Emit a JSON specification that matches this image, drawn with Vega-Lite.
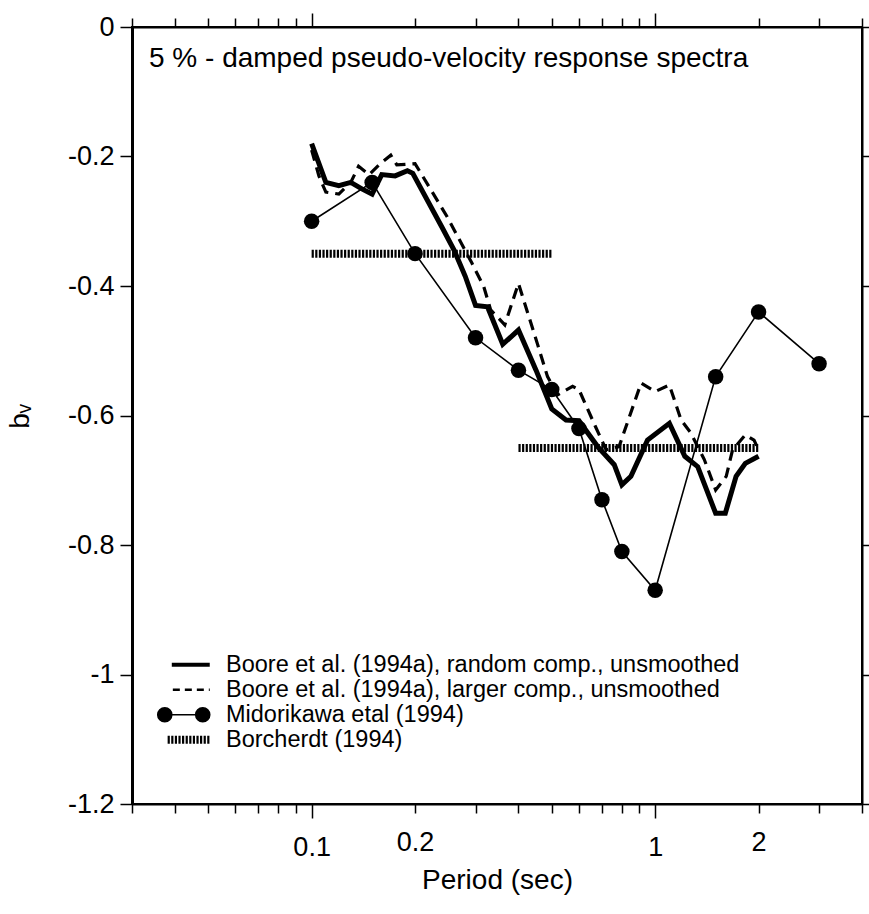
{
  "$schema": "https://vega.github.io/schema/vega-lite/v6.json",
  "width": 730,
  "height": 777,
  "autosize": {"type": "none"},
  "padding": {"left": 132, "top": 27, "right": 7, "bottom": 110},
  "background": "white",
  "config": {
    "view": {"stroke": "black", "strokeWidth": 2},
    "font": "Liberation Sans",
    "axis": {"grid": false, "domainColor": "black", "domainWidth": 2, "tickColor": "black", "tickWidth": 1.5, "labelColor": "black", "titleColor": "black", "labelFont": "Liberation Sans", "titleFont": "Liberation Sans", "titleFontWeight": "normal", "labelOverlap": false, "labelFlush": false, "labelBound": false}
  },
  "title": {
    "text": "5 % - damped pseudo-velocity response spectra",
    "anchor": "start",
    "frame": "group",
    "orient": "top",
    "font": "Liberation Sans",
    "fontSize": 28,
    "fontWeight": "normal",
    "color": "black",
    "baseline": "alphabetic",
    "dx": 17,
    "offset": -83
  },
  "datasets": {
    "borcherdt": [
      {"seg": "a", "p": 0.1, "b": -0.35},
      {"seg": "a", "p": 0.5, "b": -0.35},
      {"seg": "b", "p": 0.4, "b": -0.65},
      {"seg": "b", "p": 2.0, "b": -0.65}
    ],
    "midorikawa": [
      {"p": 0.1, "b": -0.30},
      {"p": 0.15, "b": -0.24},
      {"p": 0.2, "b": -0.35},
      {"p": 0.3, "b": -0.48},
      {"p": 0.4, "b": -0.53},
      {"p": 0.5, "b": -0.56},
      {"p": 0.6, "b": -0.62},
      {"p": 0.7, "b": -0.73},
      {"p": 0.8, "b": -0.81},
      {"p": 1.0, "b": -0.87},
      {"p": 1.5, "b": -0.54},
      {"p": 2.0, "b": -0.44},
      {"p": 3.0, "b": -0.52}
    ],
    "larger": [
      {"p": 0.1, "b": -0.19},
      {"p": 0.105, "b": -0.23},
      {"p": 0.11, "b": -0.255},
      {"p": 0.12, "b": -0.258},
      {"p": 0.13, "b": -0.24},
      {"p": 0.137, "b": -0.215},
      {"p": 0.147, "b": -0.228},
      {"p": 0.157, "b": -0.213},
      {"p": 0.17, "b": -0.198},
      {"p": 0.177, "b": -0.213},
      {"p": 0.2, "b": -0.211},
      {"p": 0.248, "b": -0.293},
      {"p": 0.293, "b": -0.365},
      {"p": 0.317, "b": -0.401},
      {"p": 0.332, "b": -0.437},
      {"p": 0.365, "b": -0.46},
      {"p": 0.4, "b": -0.396},
      {"p": 0.454, "b": -0.489},
      {"p": 0.486, "b": -0.54},
      {"p": 0.52, "b": -0.568},
      {"p": 0.575, "b": -0.555},
      {"p": 0.6, "b": -0.56},
      {"p": 0.67, "b": -0.617},
      {"p": 0.72, "b": -0.653},
      {"p": 0.785, "b": -0.648},
      {"p": 0.91, "b": -0.55},
      {"p": 1.0, "b": -0.563},
      {"p": 1.1, "b": -0.553},
      {"p": 1.19, "b": -0.607},
      {"p": 1.27, "b": -0.627},
      {"p": 1.39, "b": -0.668},
      {"p": 1.5, "b": -0.715},
      {"p": 1.61, "b": -0.694},
      {"p": 1.68, "b": -0.653},
      {"p": 1.83, "b": -0.63},
      {"p": 1.94, "b": -0.638},
      {"p": 2.0, "b": -0.653}
    ],
    "random": [
      {"series": "Boore et al. (1994a), random comp., unsmoothed", "p": 0.1, "b": -0.18},
      {"series": "Boore et al. (1994a), random comp., unsmoothed", "p": 0.11, "b": -0.24},
      {"series": "Boore et al. (1994a), random comp., unsmoothed", "p": 0.12, "b": -0.245},
      {"series": "Boore et al. (1994a), random comp., unsmoothed", "p": 0.13, "b": -0.24},
      {"series": "Boore et al. (1994a), random comp., unsmoothed", "p": 0.14, "b": -0.25},
      {"series": "Boore et al. (1994a), random comp., unsmoothed", "p": 0.15, "b": -0.258},
      {"series": "Boore et al. (1994a), random comp., unsmoothed", "p": 0.16, "b": -0.228},
      {"series": "Boore et al. (1994a), random comp., unsmoothed", "p": 0.175, "b": -0.23},
      {"series": "Boore et al. (1994a), random comp., unsmoothed", "p": 0.19, "b": -0.222},
      {"series": "Boore et al. (1994a), random comp., unsmoothed", "p": 0.197, "b": -0.226},
      {"series": "Boore et al. (1994a), random comp., unsmoothed", "p": 0.24, "b": -0.31},
      {"series": "Boore et al. (1994a), random comp., unsmoothed", "p": 0.26, "b": -0.345},
      {"series": "Boore et al. (1994a), random comp., unsmoothed", "p": 0.28, "b": -0.385},
      {"series": "Boore et al. (1994a), random comp., unsmoothed", "p": 0.3, "b": -0.43},
      {"series": "Boore et al. (1994a), random comp., unsmoothed", "p": 0.325, "b": -0.432},
      {"series": "Boore et al. (1994a), random comp., unsmoothed", "p": 0.36, "b": -0.49},
      {"series": "Boore et al. (1994a), random comp., unsmoothed", "p": 0.4, "b": -0.468},
      {"series": "Boore et al. (1994a), random comp., unsmoothed", "p": 0.45, "b": -0.53},
      {"series": "Boore et al. (1994a), random comp., unsmoothed", "p": 0.5, "b": -0.59},
      {"series": "Boore et al. (1994a), random comp., unsmoothed", "p": 0.55, "b": -0.607},
      {"series": "Boore et al. (1994a), random comp., unsmoothed", "p": 0.6, "b": -0.608},
      {"series": "Boore et al. (1994a), random comp., unsmoothed", "p": 0.68, "b": -0.648},
      {"series": "Boore et al. (1994a), random comp., unsmoothed", "p": 0.76, "b": -0.676},
      {"series": "Boore et al. (1994a), random comp., unsmoothed", "p": 0.8, "b": -0.707},
      {"series": "Boore et al. (1994a), random comp., unsmoothed", "p": 0.85, "b": -0.694},
      {"series": "Boore et al. (1994a), random comp., unsmoothed", "p": 0.95, "b": -0.638},
      {"series": "Boore et al. (1994a), random comp., unsmoothed", "p": 1.1, "b": -0.612},
      {"series": "Boore et al. (1994a), random comp., unsmoothed", "p": 1.22, "b": -0.663},
      {"series": "Boore et al. (1994a), random comp., unsmoothed", "p": 1.33, "b": -0.679},
      {"series": "Boore et al. (1994a), random comp., unsmoothed", "p": 1.5, "b": -0.751},
      {"series": "Boore et al. (1994a), random comp., unsmoothed", "p": 1.6, "b": -0.751},
      {"series": "Boore et al. (1994a), random comp., unsmoothed", "p": 1.72, "b": -0.694},
      {"series": "Boore et al. (1994a), random comp., unsmoothed", "p": 1.83, "b": -0.674},
      {"series": "Boore et al. (1994a), random comp., unsmoothed", "p": 2.0, "b": -0.663}
    ]
  },
  "resolve": {"axis": {"x": "independent", "y": "independent"}},
  "layer": [
    {
      "data": {"name": "borcherdt"},
      "mark": {"type": "line", "color": "black", "strokeWidth": 8, "strokeDash": [2.2, 1.4], "strokeCap": "butt"},
      "encoding": {
        "x": {"field": "p", "type": "quantitative", "scale": {"type": "log", "domain": [0.03, 4], "nice": false},
          "axis": {"orient": "top", "title": null, "labels": false,
            "values": [0.03, 0.04, 0.05, 0.06, 0.07, 0.08, 0.09, 0.1, 0.2, 0.3, 0.4, 0.5, 0.6, 0.7, 0.8, 0.9, 1, 2, 3, 4],
            "tickSize": {"condition": {"test": "datum.value == 0.1 || datum.value == 1", "value": 14}, "value": 9}}},
        "y": {"field": "b", "type": "quantitative", "scale": {"domain": [-1.2, 0], "nice": false, "zero": false},
          "axis": {"orient": "right", "title": null, "labels": false, "values": [-1.2, -1, -0.8, -0.6, -0.4, -0.2, 0], "tickSize": 7}},
        "detail": {"field": "seg"}
      }
    },
    {
      "data": {"name": "midorikawa"},
      "mark": {"type": "line", "color": "black", "strokeWidth": 1.6},
      "encoding": {
        "x": {"field": "p", "type": "quantitative", "scale": {"type": "log", "domain": [0.03, 4], "nice": false}, "axis": null},
        "y": {"field": "b", "type": "quantitative", "scale": {"domain": [-1.2, 0], "nice": false, "zero": false}, "axis": null}
      }
    },
    {
      "data": {"name": "larger"},
      "mark": {"type": "line", "color": "black", "strokeWidth": 3.2, "strokeDash": [11, 7]},
      "encoding": {
        "x": {"field": "p", "type": "quantitative", "scale": {"type": "log", "domain": [0.03, 4], "nice": false}, "axis": null},
        "y": {"field": "b", "type": "quantitative", "scale": {"domain": [-1.2, 0], "nice": false, "zero": false}, "axis": null}
      }
    },
    {
      "data": {"name": "random"},
      "mark": {"type": "line", "strokeWidth": 5},
      "encoding": {
        "x": {"field": "p", "type": "quantitative", "scale": {"type": "log", "domain": [0.03, 4], "nice": false},
          "axis": {"orient": "bottom", "title": "Period (sec)", "titleFontSize": 28, "titleX": 365, "titleY": 76, "titleBaseline": "middle", "titleAlign": "center",
            "values": [0.03, 0.04, 0.05, 0.06, 0.07, 0.08, 0.09, 0.1, 0.2, 0.3, 0.4, 0.5, 0.6, 0.7, 0.8, 0.9, 1, 2, 3, 4],
            "labelExpr": "indexof([0.1, 0.2, 1, 2], datum.value) >= 0 ? '' + datum.value : ''",
            "labelFontSize": 27, "labelPadding": 16,
            "tickSize": {"condition": {"test": "datum.value == 0.1 || datum.value == 1", "value": 14}, "value": 9}}},
        "y": {"field": "b", "type": "quantitative", "scale": {"domain": [-1.2, 0], "nice": false, "zero": false},
          "axis": {"orient": "left", "title": "bᵥ", "titleFontSize": 28, "titleX": -112, "titleY": 389, "titleAngle": -90, "titleAlign": "center", "titleBaseline": "middle",
            "values": [-1.2, -1, -0.8, -0.6, -0.4, -0.2, 0],
            "labelExpr": "datum.value == 0 ? '0' : '-' + format(abs(datum.value), '~g')",
            "labelFontSize": 27, "labelPadding": 6, "tickSize": 12, "domainWidth": 3}},
        "color": {"field": "series", "type": "nominal",
          "scale": {"domain": ["Boore et al. (1994a), random comp., unsmoothed", "Boore et al. (1994a), larger comp., unsmoothed", "Midorikawa etal (1994)", "Borcherdt (1994)"], "range": ["black", "black", "black", "black"]},
          "legend": {
            "orient": "none", "legendX": 22, "legendY": 626, "title": null, "padding": 0,
            "symbolType": "M-1,0L1,0", "symbolSize": 2704, "symbolStrokeWidth": 5, "symbolOffset": 18,
            "labelFont": "Liberation Sans", "labelFontSize": 23.5, "labelColor": "black", "labelOffset": 30.5, "labelLimit": 0,
            "rowPadding": 0, "clipHeight": 23.5,
            "encode": {"symbols": {"update": {
              "shape": {"signal": "datum.value === 'Midorikawa etal (1994)' ? 'M-1,0a0.27,0.27 0 1,0 0.54,0a0.27,0.27 0 1,0 -0.54,0M-0.46,0L0.46,0M0.46,0a0.27,0.27 0 1,0 0.54,0a0.27,0.27 0 1,0 -0.54,0' : datum.value === 'Borcherdt (1994)' ? 'M-0.62,0L1,0' : datum.value === 'Boore et al. (1994a), larger comp., unsmoothed' ? 'M-0.42,0L1,0' : 'M-0.46,0L1,0'"},
              "strokeWidth": {"signal": "datum.value === 'Midorikawa etal (1994)' ? 1.6 : datum.value === 'Borcherdt (1994)' ? 8 : datum.value === 'Boore et al. (1994a), larger comp., unsmoothed' ? 2.5 : 4"},
              "strokeDash": {"signal": "datum.value === 'Borcherdt (1994)' ? [2.2, 1.4] : datum.value === 'Boore et al. (1994a), larger comp., unsmoothed' ? [7, 5] : []"},
              "fill": {"value": "black"},
              "stroke": {"value": "black"},
              "opacity": {"value": 1}
            }}}
          }}
      }
    },
    {
      "data": {"name": "midorikawa"},
      "mark": {"type": "circle", "color": "black", "size": 240, "opacity": 1},
      "encoding": {
        "x": {"field": "p", "type": "quantitative", "scale": {"type": "log", "domain": [0.03, 4], "nice": false}, "axis": null},
        "y": {"field": "b", "type": "quantitative", "scale": {"domain": [-1.2, 0], "nice": false, "zero": false}, "axis": null}
      }
    }
  ]
}
